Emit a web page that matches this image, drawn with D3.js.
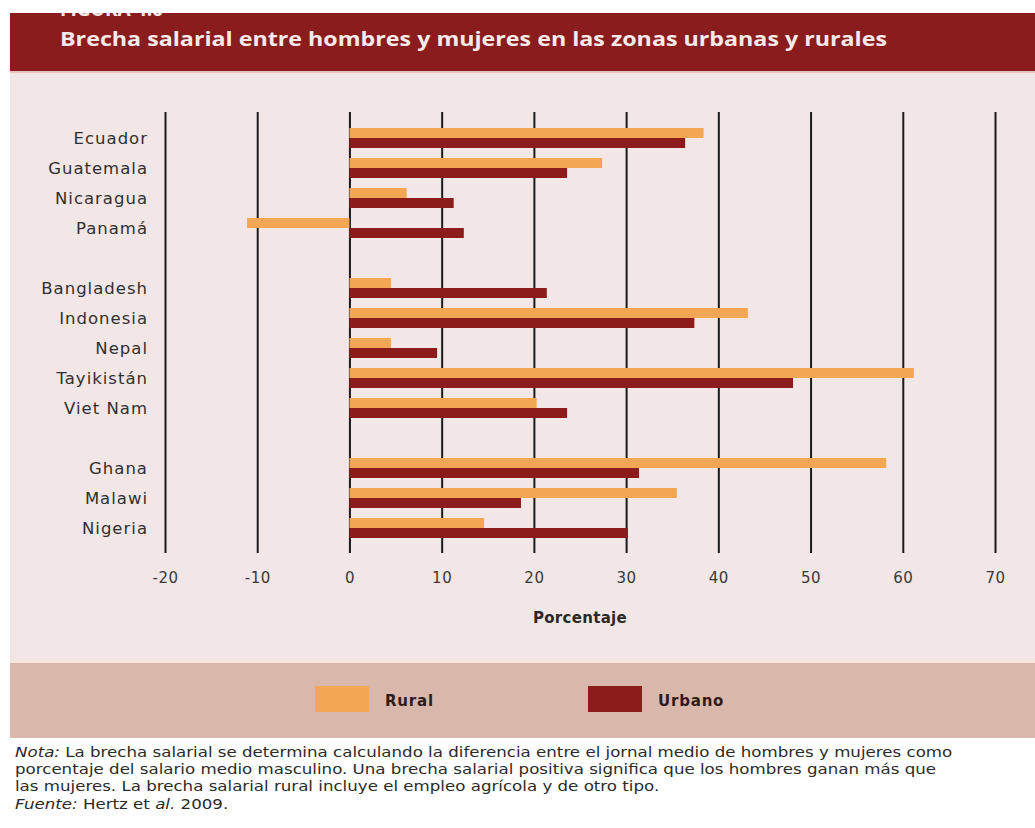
<!DOCTYPE html>
<html>
<head>
<meta charset="utf-8">
<script src="https://cdn.jsdelivr.net/npm/d3@7"></script>
<style>
  body { margin: 0; background: #ffffff; }
  svg { display: block; }
</style>
</head>
<body>
<div id="chart"></div>
<script>
// Country groups (a blank row separates each group)
const latinAmerica = ['Ecuador', 'Guatemala', 'Nicaragua', 'Panamá'];
const asia = ['Bangladesh', 'Indonesia', 'Nepal', 'Tayikistán', 'Viet Nam'];
const africa = ['Ghana', 'Malawi', 'Nigeria'];

// Wage gap (%), in the same order as the countries above
const rural = [38.4, 27.4, 6.2, -11.1, 4.5, 43.2, 4.5, 61.2, 20.3, 58.2, 35.5, 14.6];
const urbano = [36.4, 23.6, 11.3, 12.4, 21.4, 37.4, 9.5, 48.1, 23.6, 31.4, 18.6, 30.2];

const xTicks = [-20, -10, 0, 10, 20, 30, 40, 50, 60, 70];
const seriesNames = ['Rural', 'Urbano'];

const titleText = 'Brecha salarial entre hombres y mujeres en las zonas urbanas y rurales';
const noteLines = [
    [{ t: 'Nota:', i: true }, { t: ' La brecha salarial se determina calculando la diferencia entre el jornal medio de hombres y mujeres como' }],
    [{ t: 'porcentaje del salario medio masculino. Una brecha salarial positiva significa que los hombres ganan más que' }],
    [{ t: 'las mujeres. La brecha salarial rural incluye el empleo agrícola y de otro tipo.' }],
    [{ t: 'Fuente:', i: true }, { t: ' Hertz et ' }, { t: 'al.', i: true }, { t: ' 2009.' }]
];

const colors = { Rural: '#f3a654', Urbano: '#8c1b1c' };

const W = 1035, H = 828;
const svg = d3.select('#chart')
    .append('svg')
    .attr('width', W)
    .attr('height', H);

// Header band
svg.append('rect')
    .attr('x', 10).attr('y', 13)
    .attr('width', W - 10).attr('height', 58)
    .attr('fill', '#8b1c1e');

// Cut-off figure number at the top of the band
svg.append('text')
    .attr('x', 60).attr('y', 15.5)
    .attr('fill', '#f6e8e8')
    .style('font-family', '"Open Sans", sans-serif')
    .style('font-weight', 700)
    .style('font-size', '20px')
    .attr('textLength', 103)
    .attr('lengthAdjust', 'spacingAndGlyphs')
    .text('FIGURA 4.6');

// White strip above the band hides the top of the figure number
svg.append('rect')
    .attr('x', 0).attr('y', 0)
    .attr('width', W).attr('height', 13)
    .attr('fill', '#ffffff');

svg.append('text')
    .attr('x', 60).attr('y', 46)
    .attr('fill', '#f7eaea')
    .style('font-family', '"Open Sans", sans-serif')
    .style('font-weight', 700)
    .style('font-size', '20px')
    .attr('textLength', 827)
    .attr('lengthAdjust', 'spacingAndGlyphs')
    .text(titleText);

// Plot background
svg.append('rect')
    .attr('x', 10).attr('y', 71)
    .attr('width', W - 10).attr('height', 2)
    .attr('fill', '#e7c3bd');
svg.append('rect')
    .attr('x', 10).attr('y', 73)
    .attr('width', W - 10).attr('height', 588)
    .attr('fill', '#f2e6e6');

// Legend band
svg.append('rect')
    .attr('x', 10).attr('y', 660)
    .attr('width', W - 10).attr('height', 3)
    .attr('fill', '#f6e6dc');
svg.append('rect')
    .attr('x', 10).attr('y', 663)
    .attr('width', W - 10).attr('height', 75)
    .attr('fill', '#dab7ab');

// Scales
const countries = [...latinAmerica, ...asia, ...africa];
const rows = [...latinAmerica, 'gap1', ...asia, 'gap2', ...africa];

const x = d3.scaleLinear()
    .domain([-20, 70])
    .range([165, 995]);

const y = d3.scaleBand()
    .domain(rows)
    .range([123, 543])
    .padding(0);

const ySub = d3.scaleBand()
    .domain(seriesNames)
    .range([5, 25])
    .padding(0);

// Vertical grid lines (long ticks)
const xAxis = d3.axisBottom(x)
    .tickValues(xTicks)
    .tickSize(-(553 - 112))
    .tickSizeOuter(0)
    .tickPadding(14)
    .tickFormat(d => String(d));

const axisG = svg.append('g')
    .attr('class', 'x-axis')
    .attr('transform', 'translate(0,553)')
    .call(xAxis);

axisG.select('.domain').remove();
axisG.selectAll('.tick line')
    .attr('stroke', '#1b1b1b')
    .attr('stroke-width', 2);
axisG.selectAll('.tick text')
    .attr('fill', '#3a3a3a')
    .attr('dy', '1.05em')
    .style('font-family', '"DejaVu Sans", sans-serif')
    .style('font-size', '15px')
    .style('letter-spacing', '0.5px');

// Axis title
svg.append('text')
    .attr('x', 580)
    .attr('y', 623)
    .attr('text-anchor', 'middle')
    .attr('fill', '#2a2a2a')
    .style('font-family', '"DejaVu Sans", sans-serif')
    .style('font-weight', 700)
    .style('font-size', '15px')
    .style('letter-spacing', '0.3px')
    .text('Porcentaje');

// Bars
const barData = [];
countries.forEach((c, i) => {
    barData.push({ country: c, series: 'Rural', value: rural[i] });
    barData.push({ country: c, series: 'Urbano', value: urbano[i] });
});

svg.selectAll('.bar')
    .data(barData)
    .enter()
    .append('rect')
    .attr('class', 'bar')
    .attr('x', d => x(Math.min(0, d.value)))
    .attr('width', d => Math.abs(x(d.value) - x(0)))
    .attr('y', d => y(d.country) + ySub(d.series))
    .attr('height', ySub.bandwidth())
    .attr('fill', d => colors[d.series]);

// Country labels
svg.selectAll('.country-label')
    .data(countries)
    .enter()
    .append('text')
    .attr('class', 'country-label')
    .attr('x', 148)
    .attr('y', d => y(d) + 15)
    .attr('dy', '0.36em')
    .attr('text-anchor', 'end')
    .attr('fill', '#303030')
    .style('font-family', '"DejaVu Sans", sans-serif')
    .style('font-size', '16.5px')
    .style('letter-spacing', '1px')
    .text(d => d);

// Legend
const legendPos = [
    { name: 'Rural', sx: 315, tx: 385 },
    { name: 'Urbano', sx: 588, tx: 658 }
];

const legend = svg.append('g').attr('class', 'legend');

legendPos.forEach(item => {
    legend.append('rect')
        .attr('x', item.sx)
        .attr('y', 686)
        .attr('width', 54)
        .attr('height', 26)
        .attr('fill', colors[item.name]);

    legend.append('text')
        .attr('x', item.tx)
        .attr('y', 706)
        .attr('fill', '#2e1c1c')
        .style('font-family', '"DejaVu Sans", sans-serif')
        .style('font-weight', 700)
        .style('font-size', '15px')
        .style('letter-spacing', '0.8px')
        .text(item.name);
});

// Notes below the chart, squeezed to the width of the original condensed type
const notes = svg.append('g').attr('class', 'notes');
const noteY = [757, 774, 791, 809];

noteLines.forEach((parts, i) => {
    const t = notes.append('text')
        .attr('x', 0)
        .attr('y', noteY[i])
        .attr('fill', '#2b2b2b')
        .style('font-family', '"DejaVu Sans", sans-serif')
        .style('font-size', '14px');
    parts.forEach(p => {
        t.append('tspan')
            .style('font-style', p.i ? 'italic' : 'normal')
            .text(p.t);
    });
});

const firstWidth = notes.select('text').node().getComputedTextLength();
const sx = 938 / firstWidth;
notes.attr('transform', `translate(15,0) scale(${sx},1)`);
</script>
</body>
</html>
